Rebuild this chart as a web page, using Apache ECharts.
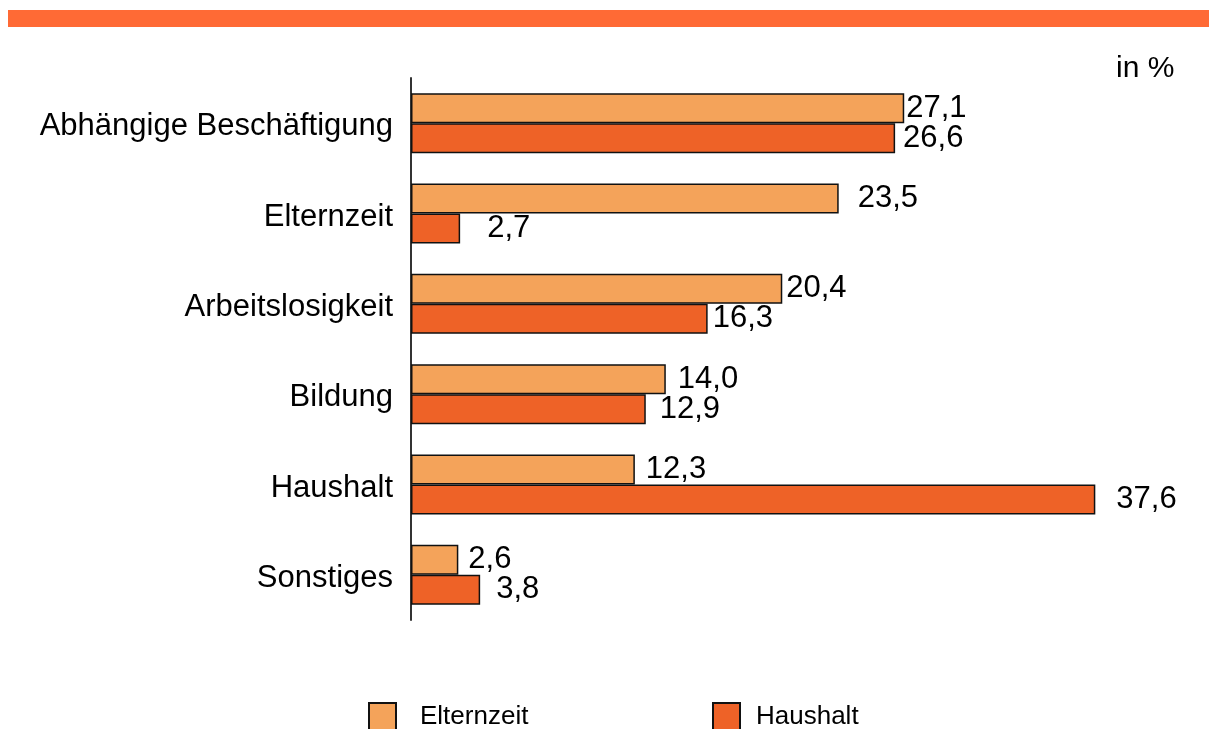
<!DOCTYPE html>
<html>
<head>
<meta charset="utf-8">
<script src="https://cdn.jsdelivr.net/npm/echarts@6/dist/echarts.min.js"></script>
<style>
  html, body { margin: 0; padding: 0; background: #fff; }
  #chart { width: 1209px; height: 729px; }
</style>
</head>
<body>
<div id="chart"></div>
<script>
(function () {
    // Kategorien von oben nach unten
    var categories = ['Abhängige Beschäftigung', 'Elternzeit', 'Arbeitslosigkeit', 'Bildung', 'Haushalt', 'Sonstiges'];
    var seriesNames = ['Elternzeit', 'Haushalt'];
    var elternzeit = [27.1, 23.5, 20.4, 14.0, 12.3, 2.6];
    var haushalt = [26.6, 2.7, 16.3, 12.9, 37.6, 3.8];

    // Abstand der Wertbeschriftung zum Balkenende (wie im Original)
    var gapEltern = [2, 19, 4, 12, 11, 10];
    var gapHaushalt = [8, 27, 5, 14, 21, 16];

    var FONT = 'Liberation Sans, Arial, sans-serif';

    var fmt = function (v) {
        return v.toFixed(1).replace('.', ',');
    };

    var mkData = function (vals, gaps) {
        var out = [];
        for (var i = 0; i < vals.length; i++) {
            out.push({ value: vals[i], label: { distance: gaps[i] } });
        }
        return out;
    };

    var labelStyle = {
        show: true,
        position: 'right',
        color: '#000',
        fontFamily: FONT,
        fontSize: 31,
        formatter: function (p) { return fmt(p.value); }
    };

    var legendBase = function (name, left, pad) {
        return {
            data: [name],
            left: left,
            top: 697,
            itemWidth: 27,
            itemHeight: 27,
            icon: 'rect',
            textStyle: { fontSize: 26, fontFamily: FONT, color: '#000', padding: [0, 0, 0, pad] }
        };
    };

    var chart = echarts.init(document.getElementById('chart'));
    chart.setOption({
        animation: false,
        backgroundColor: '#fff',
        graphic: [
            { type: 'rect', shape: { x: 8, y: 10, width: 1201, height: 17 }, style: { fill: '#FF6A35' } },
            { type: 'text', left: 1116, top: 54, style: { text: 'in %', fontSize: 30, fontFamily: FONT, fill: '#000' } }
        ],
        grid: { left: 411, right: 70, top: 78, height: 542 },
        legend: [
            legendBase(seriesNames[0], 363, 19),
            legendBase(seriesNames[1], 707, 11)
        ],
        xAxis: {
            type: 'value',
            min: 0,
            max: 40,
            show: false
        },
        yAxis: {
            type: 'category',
            data: categories,
            inverse: true,
            axisLine: { show: true, lineStyle: { color: '#333', width: 2 } },
            axisTick: { show: false },
            axisLabel: {
                margin: 18,
                formatter: function (v) { return '{c|' + v + '}'; },
                rich: {
                    c: { color: '#000', fontSize: 31, fontFamily: FONT, padding: [7, 0, 0, 0] }
                }
            }
        },
        series: [
            {
                name: seriesNames[0],
                type: 'bar',
                data: mkData(elternzeit, gapEltern),
                barWidth: 30,
                barGap: '0%',
                itemStyle: { color: '#F4A35A', borderColor: '#111', borderWidth: 1.5 },
                label: labelStyle
            },
            {
                name: seriesNames[1],
                type: 'bar',
                data: mkData(haushalt, gapHaushalt),
                barWidth: 30,
                barGap: '0%',
                itemStyle: { color: '#EE6227', borderColor: '#111', borderWidth: 1.5 },
                label: labelStyle
            }
        ]
    });
})();
</script>
</body>
</html>
